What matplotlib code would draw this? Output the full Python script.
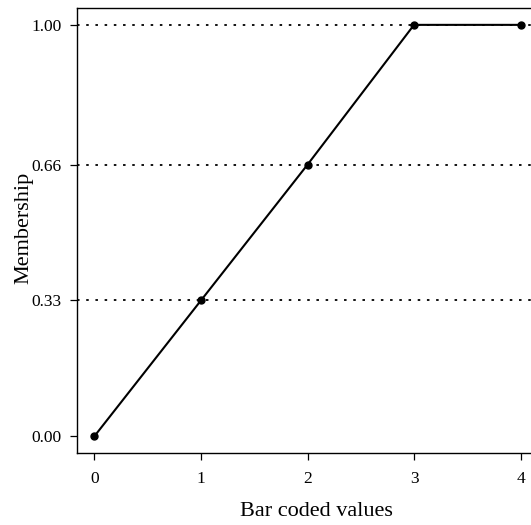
import numpy as np
import matplotlib.pyplot as plt

plt.rcParams['font.family'] = ['Liberation Serif', 'DejaVu Serif']

codes = [0, 1, 2, 3, 4]
membership = [0.0, 0.33, 0.66, 1.0, 1.0]
y_ticks = [0.0, 0.33, 0.66, 1.0]
ref_lines = [0.33, 0.66, 1.0]

fig = plt.figure(figsize=(5.31, 5.25), dpi=100)
ax = fig.add_axes([77 / 531, 72 / 525, 461 / 531, 445 / 525])

for h in ref_lines:
    ax.axhline(h, color='black', linestyle=(0, (1.4, 3.7)), linewidth=1.3, zorder=1)

ax.plot(codes, membership, color='black', linewidth=1.5, marker='o',
        markersize=5, zorder=3)

ax.set_xlim(-0.164, 4.164)
ax.set_ylim(-0.041, 1.041)
ax.set_xticks(codes)
ax.set_xticklabels([str(c) for c in codes])
ax.set_yticks(y_ticks)
ax.set_yticklabels([f"{v:.2f}" for v in y_ticks])
ax.tick_params(direction='out', length=5, width=0.9, labelsize=12.5, pad=6)
ax.tick_params(axis='x', pad=8)

for s in ['left', 'bottom', 'top']:
    ax.spines[s].set_linewidth(1.0)
ax.spines['right'].set_visible(False)

ax.set_xlabel("Bar coded values", fontsize=16)
ax.set_ylabel("Membership", fontsize=16)
ax.xaxis.set_label_coords(0.52, -0.111)
ax.yaxis.set_label_coords(-0.0955, 0.505)

fig.savefig("out.png", dpi=100)
